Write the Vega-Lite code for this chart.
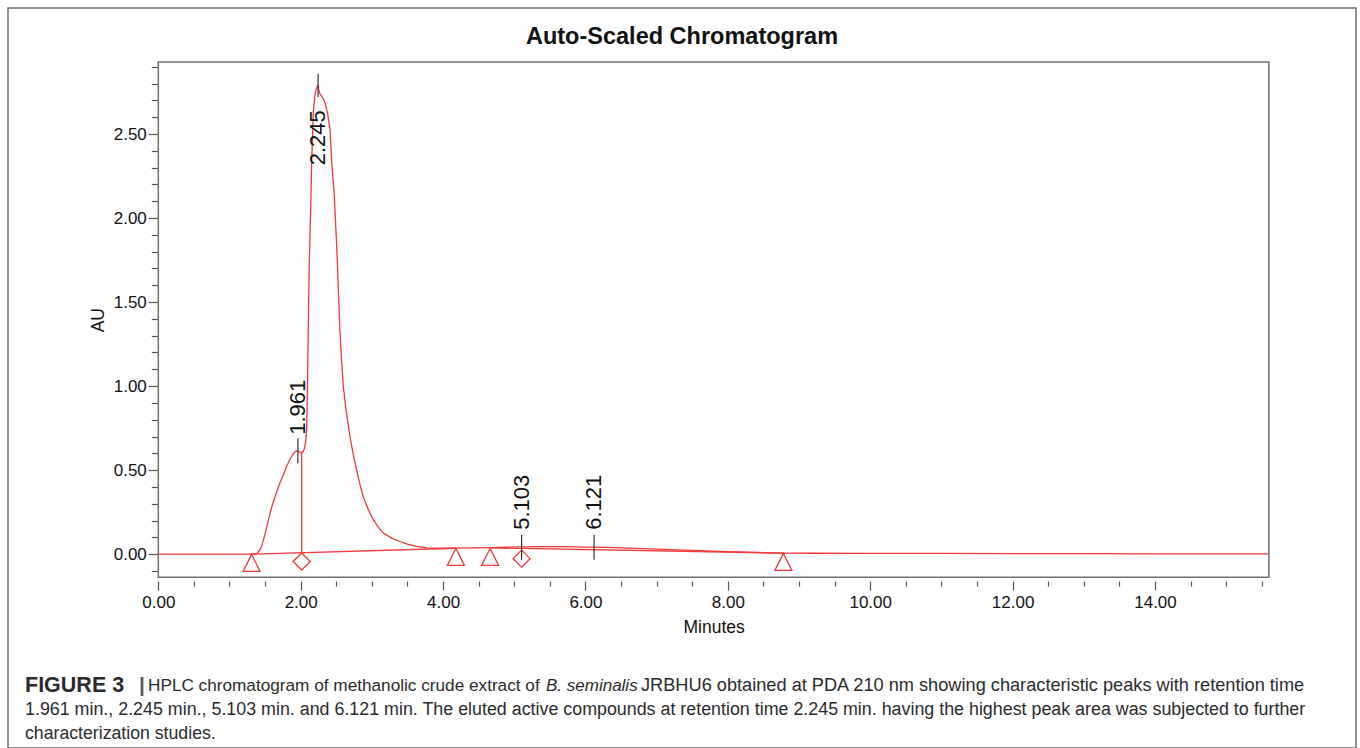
{
  "$schema": "https://vega.github.io/schema/vega-lite/v6.json",
  "autosize": {"type": "none"},
  "padding": {"left": 8, "top": 8, "right": 4, "bottom": 0},
  "width": 1348,
  "height": 740,
  "background": "white",
  "title": {"text": "Auto-Scaled Chromatogram", "anchor": "middle", "frame": "group", "offset": -40, "font": "Liberation Sans", "fontSize": 23.5, "fontWeight": "bold", "color": "#111111"},
  "config": {"view": {"stroke": "#6e6e6e", "strokeWidth": 1.5}, "font": "Liberation Sans", "axis": {"labelOverlap": false}},
  "resolve": {"axis": {"y": "independent"}},
  "datasets": {
    "signal": [
      {"t": 0, "au": 0}, {"t": 0.5, "au": 0}, {"t": 1.0, "au": 0}, {"t": 1.3, "au": 0}, {"t": 1.38, "au": 0.003},
      {"t": 1.42, "au": 0.02}, {"t": 1.45, "au": 0.045}, {"t": 1.5, "au": 0.12}, {"t": 1.55, "au": 0.21}, {"t": 1.6, "au": 0.29},
      {"t": 1.65, "au": 0.355}, {"t": 1.7, "au": 0.415}, {"t": 1.75, "au": 0.465}, {"t": 1.8, "au": 0.52}, {"t": 1.85, "au": 0.565},
      {"t": 1.9, "au": 0.6}, {"t": 1.93, "au": 0.612}, {"t": 1.95, "au": 0.615}, {"t": 1.97, "au": 0.612}, {"t": 2.0, "au": 0.604},
      {"t": 2.03, "au": 0.607}, {"t": 2.05, "au": 0.625}, {"t": 2.07, "au": 0.67}, {"t": 2.085, "au": 0.76}, {"t": 2.095, "au": 1.0},
      {"t": 2.107, "au": 1.35}, {"t": 2.121, "au": 1.74}, {"t": 2.14, "au": 2.04}, {"t": 2.154, "au": 2.33}, {"t": 2.177, "au": 2.63},
      {"t": 2.2, "au": 2.73}, {"t": 2.22, "au": 2.77}, {"t": 2.239, "au": 2.79}, {"t": 2.255, "au": 2.76}, {"t": 2.271, "au": 2.74},
      {"t": 2.295, "au": 2.725}, {"t": 2.318, "au": 2.71}, {"t": 2.345, "au": 2.68}, {"t": 2.374, "au": 2.63}, {"t": 2.412, "au": 2.53},
      {"t": 2.435, "au": 2.335}, {"t": 2.472, "au": 2.135}, {"t": 2.505, "au": 1.84}, {"t": 2.552, "au": 1.32}, {"t": 2.575, "au": 1.15},
      {"t": 2.598, "au": 1.0}, {"t": 2.64, "au": 0.85}, {"t": 2.692, "au": 0.7}, {"t": 2.74, "au": 0.59}, {"t": 2.786, "au": 0.5},
      {"t": 2.83, "au": 0.42}, {"t": 2.879, "au": 0.34}, {"t": 2.95, "au": 0.265}, {"t": 3.02, "au": 0.205}, {"t": 3.09, "au": 0.16},
      {"t": 3.16, "au": 0.125}, {"t": 3.28, "au": 0.095}, {"t": 3.395, "au": 0.075}, {"t": 3.5, "au": 0.06}, {"t": 3.629, "au": 0.046},
      {"t": 3.77, "au": 0.037}, {"t": 4.0, "au": 0.035}, {"t": 4.18, "au": 0.036}, {"t": 4.4, "au": 0.037}, {"t": 4.66, "au": 0.039},
      {"t": 4.9, "au": 0.041}, {"t": 5.1, "au": 0.043}, {"t": 5.4, "au": 0.044}, {"t": 5.7, "au": 0.044}, {"t": 6.0, "au": 0.042},
      {"t": 6.3, "au": 0.04}, {"t": 6.6, "au": 0.036}, {"t": 7.0, "au": 0.03}, {"t": 7.5, "au": 0.022}, {"t": 8.0, "au": 0.015},
      {"t": 8.5, "au": 0.009}, {"t": 8.78, "au": 0.006}, {"t": 9.2, "au": 0.005}, {"t": 10.0, "au": 0.004}, {"t": 11.0, "au": 0.004},
      {"t": 12.0, "au": 0.003}, {"t": 13.0, "au": 0.003}, {"t": 14.0, "au": 0.002}, {"t": 15.0, "au": 0.002}, {"t": 15.6, "au": 0.002}
    ],
    "baseline": [
      {"seg": "A", "t": 1.311, "au": 0}, {"seg": "A", "t": 4.18, "au": 0.035},
      {"seg": "B", "t": 4.66, "au": 0.037}, {"seg": "B", "t": 8.78, "au": 0.006},
      {"seg": "drop", "t": 2.014, "au": 0.009}, {"seg": "drop", "t": 2.014, "au": 0.604}
    ],
    "markers": [
      {"t": 1.311, "au": -0.052, "kind": "triangle"},
      {"t": 2.014, "au": -0.044, "kind": "diamond"},
      {"t": 4.18, "au": -0.017, "kind": "triangle"},
      {"t": 4.66, "au": -0.017, "kind": "triangle"},
      {"t": 5.103, "au": -0.027, "kind": "diamond"},
      {"t": 8.78, "au": -0.046, "kind": "triangle"}
    ],
    "peaks": [
      {"t": 1.961, "label": "1.961", "top": 0.69, "bot": 0.541, "lab": 0.71},
      {"t": 2.245, "label": "2.245", "top": 2.859, "bot": 2.72, "lab": 2.314},
      {"t": 5.103, "label": "5.103", "top": 0.115, "bot": -0.034, "lab": 0.145},
      {"t": 6.121, "label": "6.121", "top": 0.115, "bot": -0.034, "lab": 0.145}
    ]
  },
  "layer": [
    {
      "data": {"name": "signal"},
      "mark": {"type": "line", "color": "#ef3a3a", "strokeWidth": 1.3},
      "encoding": {
        "x": {"field": "t", "type": "quantitative", "scale": {"domain": [0, 15.6], "range": [150.3, 1260.9], "nice": false, "zero": false},
          "axis": {
            "orient": "bottom", "offset": -167, "domain": false, "grid": false,
            "values": [0,0.5,1,1.5,2,2.5,3,3.5,4,4.5,5,5.5,6,6.5,7,7.5,8,8.5,9,9.5,10,10.5,11,11.5,12,12.5,13,13.5,14,14.5,15,15.5],
            "labelExpr": "datum.value % 2 === 0 ? format(datum.value, '.2f') : ''",
            "tickSize": {"condition": {"test": "datum.value % 2 === 0", "value": 9}, "value": 5},
            "labelFontSize": {"condition": {"test": "datum.value % 2 === 0", "value": 17}, "value": 0},
            "tickColor": "#555555", "tickWidth": 1.2,
            "labelFont": "Liberation Sans", "labelColor": "#111111", "labelPadding": 4,
            "labelFlush": false, "labelOverlap": false,
            "title": "Minutes", "titleFont": "Liberation Sans", "titleFontSize": 17.5, "titleFontWeight": "normal", "titleColor": "#111111", "titlePadding": 8
          }},
        "y": {"field": "au", "type": "quantitative", "scale": {"domain": [-0.138, 2.929], "range": [569.3, 54], "nice": false, "zero": false},
          "axis": {
            "orient": "left", "offset": -150.3, "domain": false, "grid": false,
            "values": [0, 0.5, 1, 1.5, 2, 2.5],
            "format": ".2f",
            "tickSize": 10,
            "tickColor": "#555555", "tickWidth": 1.2,
            "labelFont": "Liberation Sans", "labelFontSize": 17, "labelColor": "#111111", "labelPadding": 2,
            "labelFlush": false, "labelOverlap": false,
            "title": "AU", "titleFont": "Liberation Sans", "titleFontSize": 17.5, "titleFontWeight": "normal", "titleColor": "#111111", "titlePadding": 6
          }},
        "order": {"field": "t"}
      }
    },
    {
      "data": {"values": [{}]},
      "mark": {"type": "rect", "fill": "transparent", "stroke": "#707070", "strokeWidth": 1.5},
      "encoding": {
        "x": {"datum": 0, "type": "quantitative"},
        "x2": {"datum": 15.6},
        "y": {"datum": -0.138, "type": "quantitative",
          "axis": {
            "orient": "left", "offset": -150.3, "domain": false, "grid": false,
            "values": [-0.1,0.1,0.2,0.3,0.4,0.6,0.7,0.8,0.9,1.1,1.2,1.3,1.4,1.6,1.7,1.8,1.9,2.1,2.2,2.3,2.4,2.6,2.7,2.8,2.9],
            "labels": false, "tickSize": 7, "tickColor": "#555555", "tickWidth": 1.2, "title": null
          }},
        "y2": {"datum": 2.929}
      }
    },
    {
      "data": {"name": "baseline"},
      "mark": {"type": "line", "color": "#ef3a3a", "strokeWidth": 1.3},
      "encoding": {
        "x": {"field": "t", "type": "quantitative"},
        "y": {"field": "au", "type": "quantitative", "axis": null},
        "detail": {"field": "seg"}
      }
    },
    {
      "data": {"name": "markers"},
      "mark": {"type": "point", "filled": false, "color": "#ef3a3a", "strokeWidth": 1.3, "size": 289, "opacity": 1},
      "encoding": {
        "x": {"field": "t", "type": "quantitative"},
        "y": {"field": "au", "type": "quantitative", "axis": null},
        "shape": {"field": "kind", "type": "nominal", "scale": {"domain": ["triangle", "diamond"], "range": ["M0,-1L-1,1L1,1Z", "diamond"]}, "legend": null}
      }
    },
    {
      "data": {"name": "peaks"},
      "mark": {"type": "rule", "color": "#333333", "strokeWidth": 1.2},
      "encoding": {
        "x": {"field": "t", "type": "quantitative"},
        "y": {"field": "bot", "type": "quantitative", "axis": null},
        "y2": {"field": "top"}
      }
    },
    {
      "data": {"name": "peaks"},
      "mark": {"type": "text", "angle": 270, "align": "left", "baseline": "middle", "font": "Liberation Sans", "fontSize": 22, "color": "#111111"},
      "encoding": {
        "x": {"field": "t", "type": "quantitative"},
        "y": {"field": "lab", "type": "quantitative", "axis": null},
        "text": {"field": "label"}
      }
    },
    {
      "data": {"values": [{"text": "FIGURE 3"}]},
      "mark": {"type": "text", "x": 17, "y": 678, "align": "left", "baseline": "middle", "font": "Liberation Sans", "fontSize": 21.5, "fontWeight": "bold", "color": "#2b2b2b"},
      "encoding": {"text": {"field": "text"}}
    },
    {
      "data": {"values": [{"text": "|"}]},
      "mark": {"type": "text", "x": 131, "y": 678, "align": "left", "baseline": "middle", "font": "Liberation Sans", "fontSize": 21, "fontWeight": "bold", "color": "#555555"},
      "encoding": {"text": {"field": "text"}}
    },
    {
      "data": {"values": [{"text": "HPLC chromatogram of methanolic crude extract of"}]},
      "mark": {"type": "text", "x": 140, "y": 678, "align": "left", "baseline": "middle", "font": "Liberation Sans", "fontSize": 17.2, "color": "#2b2b2b"},
      "encoding": {"text": {"field": "text"}}
    },
    {
      "data": {"values": [{"text": "B. seminalis"}]},
      "mark": {"type": "text", "x": 538, "y": 678, "align": "left", "baseline": "middle", "font": "Liberation Sans", "fontSize": 17, "fontStyle": "italic", "color": "#2b2b2b"},
      "encoding": {"text": {"field": "text"}}
    },
    {
      "data": {"values": [{"text": "JRBHU6 obtained at PDA 210 nm showing characteristic peaks with retention time"}]},
      "mark": {"type": "text", "x": 633, "y": 678, "align": "left", "baseline": "middle", "font": "Liberation Sans", "fontSize": 18.2, "color": "#2b2b2b"},
      "encoding": {"text": {"field": "text"}}
    },
    {
      "data": {"values": [{"text": "1.961 min., 2.245 min., 5.103 min. and 6.121 min. The eluted active compounds at retention time 2.245 min. having the highest peak area was subjected to further"}]},
      "mark": {"type": "text", "x": 17, "y": 702, "align": "left", "baseline": "middle", "font": "Liberation Sans", "fontSize": 17.85, "color": "#2b2b2b"},
      "encoding": {"text": {"field": "text"}}
    },
    {
      "data": {"values": [{"text": "characterization studies."}]},
      "mark": {"type": "text", "x": 17, "y": 726, "align": "left", "baseline": "middle", "font": "Liberation Sans", "fontSize": 17.7, "color": "#2b2b2b"},
      "encoding": {"text": {"field": "text"}}
    }
  ]
}
